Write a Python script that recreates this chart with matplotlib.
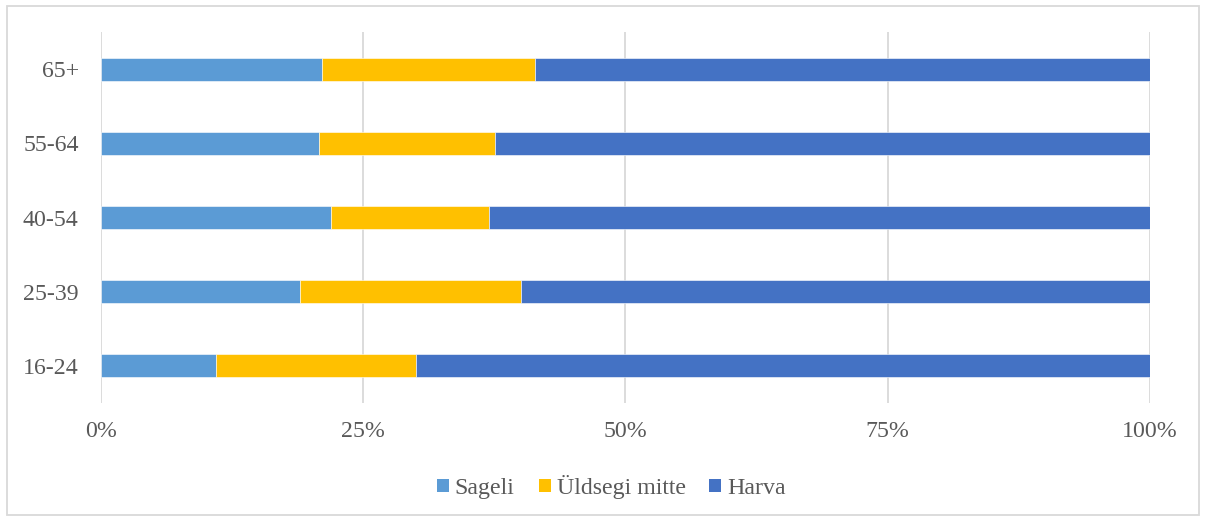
import matplotlib.pyplot as plt
from matplotlib.patches import Rectangle, Patch
from matplotlib.ticker import FuncFormatter

# age groups, bottom to top
groups = ['16-24', '25-39', '40-54', '55-64', '65+']

# shares in percent
sageli = [11.0, 19.0, 21.9, 20.8, 21.1]
uldsegi_mitte = [19.0, 21.0, 15.1, 16.8, 20.3]
harva = [70.0, 60.0, 63.0, 62.4, 58.6]

series = ['Sageli', 'Üldsegi mitte', 'Harva']
colors = ['#5B9BD5', '#FFC000', '#4472C4']

plt.rcParams['font.family'] = ['Liberation Serif', 'DejaVu Serif']

fig = plt.figure(figsize=(12.06, 5.19), dpi=100)
ax = fig.add_axes([0.0837, 0.2235, 0.8699, 0.7148])

# stacked bars
left = [0.0] * len(groups)
for name, vals, col in zip(series, [sageli, uldsegi_mitte, harva], colors):
	ax.barh(groups, vals, left=left, height=0.31, color=col, label=name,
		edgecolor='white', linewidth=0.4, zorder=3)
	left = [l + v for l, v in zip(left, vals)]

ax.set_xlim(0, 100)
ax.set_ylim(-0.5, len(groups) - 0.5)
ax.set_xticks([0, 25, 50, 75, 100])
ax.xaxis.set_major_formatter(FuncFormatter(lambda v, p: '%d%%' % v))
ax.grid(axis='x', color='#D9D9D9', linewidth=1.3, zorder=0)

for s in ax.spines.values():
	s.set_visible(False)

ax.tick_params(axis='both', length=0, labelsize=17.2, colors='#595959')
ax.tick_params(axis='x', pad=13)
ax.tick_params(axis='y', pad=16)

# legend below the plot
handles = [Patch(facecolor=c, edgecolor='none') for c in colors]
fig.legend(handles, series, loc='center', bbox_to_anchor=(0.507, 0.062), ncol=3,
	frameon=False, fontsize=17.2, handlelength=0.5, handleheight=0.5,
	handletextpad=0.25, columnspacing=1.0, labelcolor='#595959')

# chart border
fig.patches.append(Rectangle((0.0058, 0.0077), 0.9884, 0.98, transform=fig.transFigure,
	fill=False, edgecolor='#D9D9D9', linewidth=1.3))

fig.savefig('out.png', dpi=100)
